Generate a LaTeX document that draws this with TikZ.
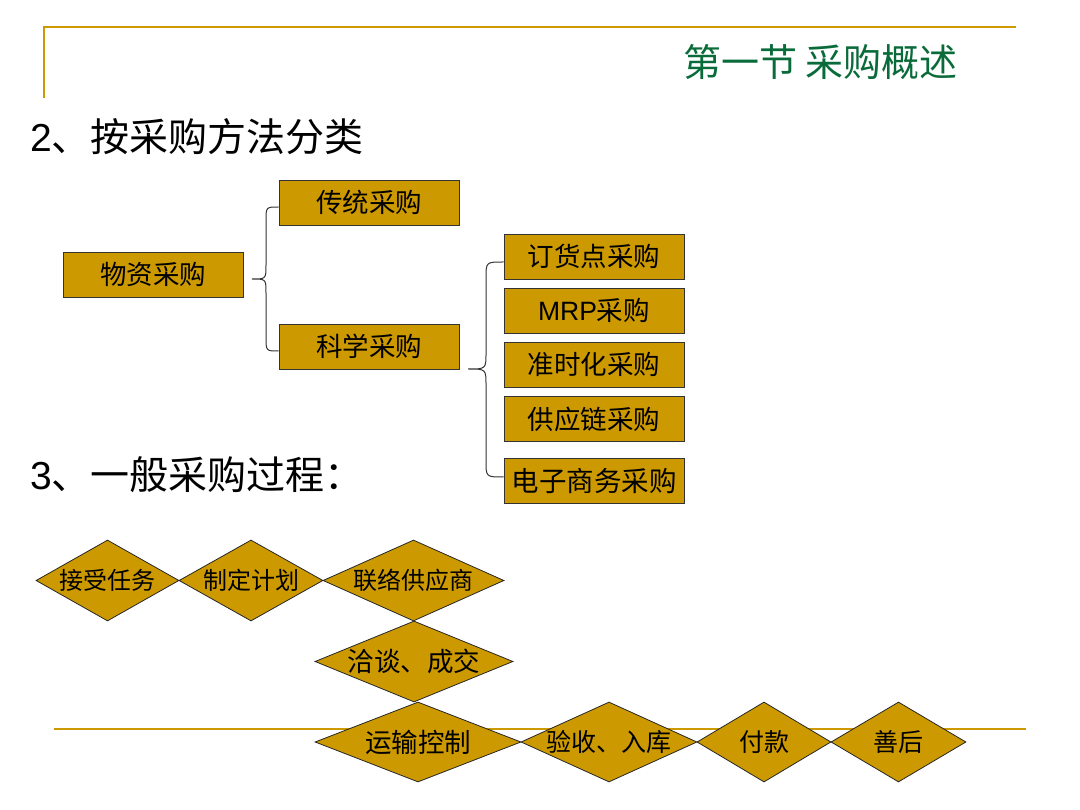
\documentclass[tikz,border=0pt]{standalone}
\usepackage{fontspec}
\setmainfont{Noto Sans CJK SC}
\newfontfamily\latinsans{Liberation Sans}
\usetikzlibrary{shapes.geometric}
\definecolor{gold}{HTML}{CC9900}
\definecolor{titlegreen}{HTML}{0A6B3A}
\tikzset{
  rulebar/.style={draw=gold, line width=2.2pt},
  catbox/.style={draw=black!80, fill=gold, line width=0.8pt, minimum width=180, minimum height=45, inner sep=0, font=\fontsize{26.5}{26.5}\selectfont},
  stepdia/.style={shape=diamond, draw=black!85, fill=gold, line width=0.8pt, inner sep=0, font=\fontsize{24}{24}\selectfont},
  bracelink/.style={draw=black!80, line width=1pt},
  heading/.style={anchor=west, inner sep=0, font=\fontsize{39}{39}\selectfont}
}
\begin{document}
\begin{tikzpicture}[x=1pt,y=-1pt]
\useasboundingbox (0,0) rectangle (1080,810);
% frame lines
\coordinate (tl) at (44,27);
\coordinate (tr) at (1016,27);
\coordinate (tb) at (44,98);
\draw[rulebar] (tb) -- (tl) -- (tr);
\coordinate (bl) at (54,729);
\coordinate (br) at (1026,729);
\draw[rulebar] (bl) -- (br);
% title
\node[anchor=east, inner sep=0, text=titlegreen, font=\fontsize{38}{38}\selectfont] (title) at (958,62) {第一节 采购概述};
% headings
\node[heading] (h2) at (30,137) {{\latinsans 2}、按采购方法分类};
\node[heading] (h3) at (30,475) {{\latinsans 3}、一般采购过程：};
% boxes
\node[catbox] (wz) at (153,274.5) {物资采购};
\node[catbox] (ct) at (369,202.5) {传统采购};
\node[catbox] (kx) at (369,346.5) {科学采购};
\node[catbox] (dh) at (594,256.5) {订货点采购};
\node[catbox] (mrp) at (594,310.5) {{\latinsans MRP}采购};
\node[catbox] (zs) at (594,364.5) {准时化采购};
\node[catbox] (gy) at (594,419) {供应链采购};
\node[catbox, font=\fontsize{27.5}{27.5}\selectfont] (dz) at (594,481) {电子商务采购};
% brace 1
\coordinate (b1t) at (ct.west |- 0,207);
\coordinate (b1b) at (kx.west |- 0,351);
\coordinate (b1m) at (252,279);
\draw[bracelink] (b1t) .. controls (266,207) .. (266,221) -- (266,265)
  .. controls (266,279) .. (b1m) .. controls (266,279) .. (266,293)
  -- (266,337) .. controls (266,351) .. (b1b);
% brace 2
\coordinate (b2t) at (dh.west |- 0,262);
\coordinate (b2b) at (dz.west |- 0,477);
\coordinate (b2m) at (468,369);
\draw[bracelink] (b2t) .. controls (486,262) .. (486,278) -- (486,353)
  .. controls (486,369) .. (b2m) .. controls (486,369) .. (486,385)
  -- (486,461) .. controls (486,477) .. (b2b);
% diamonds
\node[stepdia, minimum width=143, minimum height=81] (d1) at (107.5,580.5) {\makebox[0pt]{接受任务}};
\node[stepdia, minimum width=144, minimum height=81] (d2) at (251,580.5) {\makebox[0pt]{制定计划}};
\node[stepdia, minimum width=181, minimum height=81] (d3) at (413.5,580.5) {\makebox[0pt]{联络供应商}};
\node[stepdia, minimum width=198, minimum height=81, font=\fontsize{26.5}{26.5}\selectfont] (d4) at (414,661.5) {\makebox[0pt]{洽谈、成交}};
\node[stepdia, minimum width=206, minimum height=80, font=\fontsize{26.5}{26.5}\selectfont] (d5) at (418,742) {\makebox[0pt]{运输控制}};
\node[stepdia, minimum width=176, minimum height=80, font=\fontsize{25}{25}\selectfont] (d6) at (609,742) {\makebox[0pt]{验收、入库}};
\node[stepdia, minimum width=134, minimum height=80, font=\fontsize{25}{25}\selectfont] (d7) at (764,742) {\makebox[0pt]{付款}};
\node[stepdia, minimum width=135, minimum height=80, font=\fontsize{25}{25}\selectfont] (d8) at (898.5,742) {\makebox[0pt]{善后}};
\end{tikzpicture}
\end{document}
